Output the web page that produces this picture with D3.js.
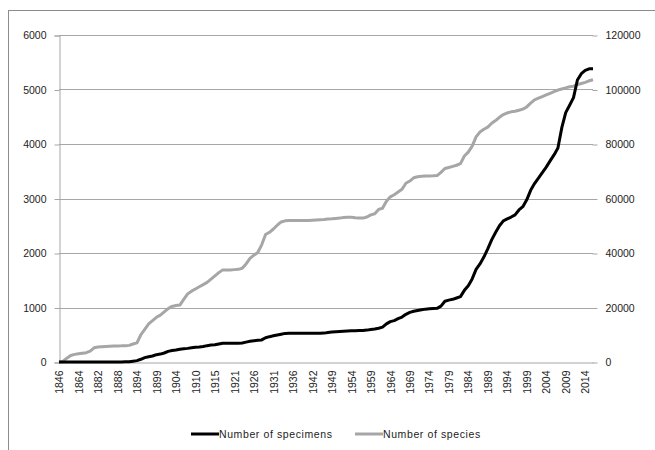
<!DOCTYPE html>
<html>
<head>
<meta charset="utf-8">
<script src="https://cdn.jsdelivr.net/npm/d3@7"></script>
<style>
    body { margin: 0; background: #fff; }
    text { font-family: "Liberation Sans", Arial, sans-serif; fill: #222; }
    .grid line { stroke: #a6a6a6; stroke-width: 1; }
    .axis path { stroke: #a6a6a6; }
    .axis line { stroke: #a6a6a6; }
</style>
</head>
<body>
<script>
//category years (every 5th one is labelled)
var years = [1846, 1850, 1853, 1857, 1860, 1864, 1867, 1871, 1875, 1879,
    1882, 1883, 1884, 1885, 1887, 1888, 1889, 1890, 1892, 1893,
    1894, 1895, 1896, 1897, 1898, 1899, 1900, 1901, 1902, 1903,
    1904, 1905, 1906, 1908, 1909, 1910, 1911, 1912, 1913, 1914,
    1915, 1916, 1917, 1919, 1920, 1921, 1922, 1923, 1924, 1925,
    1926, 1927, 1928, 1929, 1930, 1931, 1932, 1933, 1934, 1935,
    1936, 1937, 1938, 1940, 1941, 1942, 1943, 1945, 1947, 1948,
    1949, 1950, 1951, 1952, 1953, 1954, 1955, 1956, 1957, 1958,
    1959, 1960, 1961, 1962, 1963, 1964, 1965, 1966, 1967, 1968,
    1969, 1970, 1971, 1972, 1973, 1974, 1975, 1976, 1977, 1978,
    1979, 1980, 1981, 1982, 1983, 1984, 1985, 1986, 1987, 1988,
    1989, 1990, 1991, 1992, 1993, 1994, 1995, 1996, 1997, 1998,
    1999, 2000, 2001, 2002, 2003, 2004, 2005, 2006, 2007, 2008,
    2009, 2010, 2011, 2012, 2013, 2014, 2015, 2016];

//number of species (left axis)
var species = [0, 10, 70, 120, 140, 150, 160, 170, 200, 260,
    275, 280, 285, 290, 292, 294, 296, 300, 305, 330,
    350, 500, 600, 700, 760, 820, 860, 920, 980, 1020,
    1035, 1045, 1150, 1250, 1300, 1340, 1380, 1420, 1460, 1520,
    1580, 1640, 1690, 1690, 1690, 1695, 1700, 1720, 1800, 1900,
    1960, 2010, 2150, 2340, 2380, 2440, 2510, 2570, 2590, 2595,
    2595, 2595, 2595, 2595, 2595, 2600, 2605, 2610, 2615, 2625,
    2628, 2635, 2640, 2650, 2655, 2655, 2645, 2640, 2640, 2660,
    2700, 2720, 2800, 2820, 2950, 3030, 3070, 3120, 3170, 3280,
    3320, 3380, 3400, 3410, 3415, 3415, 3416, 3420, 3480, 3550,
    3570, 3590, 3610, 3640, 3780, 3850, 3960, 4130, 4220, 4270,
    4310, 4380, 4430, 4490, 4540, 4570, 4590, 4600, 4620, 4640,
    4680, 4750, 4810, 4840, 4870, 4900, 4930, 4960, 4990, 5010,
    5030, 5050, 5060, 5090, 5110, 5130, 5160, 5180];

//number of specimens (right axis)
var specimens = [0, 0, 0, 0, 0, 0, 0, 0, 0, 0,
    0, 0, 0, 0, 0, 0, 0, 50, 100, 300,
    500, 1000, 1600, 1950, 2200, 2700, 2900, 3300, 3900, 4200,
    4400, 4700, 4850, 5000, 5200, 5400, 5500, 5700, 6000, 6200,
    6300, 6600, 6870, 6870, 6870, 6870, 6900, 7000, 7300, 7600,
    7800, 8000, 8100, 8900, 9300, 9600, 9900, 10200, 10500, 10540,
    10540, 10540, 10540, 10540, 10540, 10540, 10560, 10580, 10600, 10800,
    11000, 11100, 11200, 11300, 11400, 11450, 11500, 11550, 11600, 11700,
    11900, 12100, 12400, 12800, 14000, 14800, 15200, 15900, 16500, 17500,
    18200, 18600, 18900, 19200, 19400, 19500, 19600, 19700, 20500, 22300,
    22700, 23000, 23500, 24000, 26300, 28000, 30500, 34000, 36000, 38500,
    41500, 44800, 47500, 50000, 51800, 52500, 53200, 54000, 55800, 57000,
    59500, 63000, 65500, 67500, 69500, 71500, 73800, 76000, 78500, 86000,
    91500, 94200, 97000, 103500, 105800, 107000, 107600, 107600];

var leftTicks = [0, 1000, 2000, 3000, 4000, 5000, 6000];
var rightTicks = [0, 20000, 40000, 60000, 80000, 100000, 120000];
var seriesNames = ["Number of specimens", "Number of species"];

window.onload = drawChart();

function drawChart(){

    var width = 655,
        height = 450;

    //plot area
    var left = 59, right = 593, top = 35, bottom = 362;

    var svg = d3.select("body")
        .append("svg")
        .attr("width", width)
        .attr("height", height);

    //outer chart frame
    svg.append("rect")
        .attr("x", 8.5)
        .attr("y", 10.5)
        .attr("width", 700)
        .attr("height", 500)
        .attr("fill", "none")
        .attr("stroke", "#8c8c8c")
        .attr("stroke-width", 1);

    var x = d3.scalePoint()
        .domain(years)
        .range([left, right]);

    var yLeft = d3.scaleLinear()
        .domain([0, 6000])
        .range([bottom, top]);

    var yRight = d3.scaleLinear()
        .domain([0, 120000])
        .range([bottom, top]);

    //horizontal gridlines
    svg.append("g")
        .attr("class", "grid")
        .selectAll("line")
        .data(leftTicks.slice(1))
        .enter()
        .append("line")
        .attr("x1", left)
        .attr("x2", right)
        .attr("y1", function(d){ return Math.round(yLeft(d)) + 0.5; })
        .attr("y2", function(d){ return Math.round(yLeft(d)) + 0.5; });

    //left axis
    var leftAxis = svg.append("g")
        .attr("class", "axis")
        .attr("transform", "translate(" + (left + 0.5) + ",0.5)")
        .call(d3.axisLeft(yLeft).tickValues(leftTicks).tickFormat(d3.format("d"))
            .tickSize(5).tickPadding(8));
    leftAxis.selectAll("text").style("font-size", "10.5px");

    //right axis (ticks only)
    var rightAxis = svg.append("g")
        .attr("class", "axis")
        .attr("transform", "translate(" + (right - 0.5) + ",0.5)")
        .call(d3.axisRight(yRight).tickValues(rightTicks).tickFormat(d3.format("d"))
            .tickSize(5).tickPadding(8));
    rightAxis.select(".domain").remove();
    rightAxis.selectAll("text").style("font-size", "10.5px");

    //bottom category axis
    var bottomAxis = svg.append("g")
        .attr("class", "axis")
        .attr("transform", "translate(0," + (bottom + 0.5) + ")")
        .call(d3.axisBottom(x)
            .tickValues(years.filter(function(d, i){ return i % 5 == 0; }))
            .tickSize(0)
            .tickSizeOuter(0));
    bottomAxis.selectAll("text")
        .style("font-size", "10.5px")
        .attr("transform", "rotate(-90)")
        .attr("text-anchor", "end")
        .attr("x", -8)
        .attr("y", 0)
        .attr("dy", "0.35em");

    //lines
    var speciesLine = d3.line()
        .x(function(d, i){ return x(years[i]); })
        .y(function(d){ return yLeft(d); });

    var specimensLine = d3.line()
        .x(function(d, i){ return x(years[i]); })
        .y(function(d){ return yRight(d); });

    svg.append("path")
        .datum(species)
        .attr("fill", "none")
        .attr("stroke", "#a6a6a6")
        .attr("stroke-width", 3)
        .attr("stroke-linejoin", "round")
        .attr("d", speciesLine);

    svg.append("path")
        .datum(specimens)
        .attr("fill", "none")
        .attr("stroke", "#000")
        .attr("stroke-width", 3)
        .attr("stroke-linejoin", "round")
        .attr("d", specimensLine);

    //legend
    var legendColors = ["#000", "#a6a6a6"];
    var legendX = [191, 355];
    var legend = svg.selectAll(".legend")
        .data(seriesNames)
        .enter()
        .append("g")
        .attr("class", "legend")
        .attr("transform", function(d, i){ return "translate(" + legendX[i] + ",434)"; });

    legend.append("line")
        .attr("x1", 0)
        .attr("x2", 28)
        .attr("stroke", function(d, i){ return legendColors[i]; })
        .attr("stroke-width", 3);

    legend.append("text")
        .attr("x", 28)
        .attr("dy", "0.35em")
        .style("font-size", "10.5px")
        .style("letter-spacing", "0.6px")
        .text(function(d){ return d; });
};
</script>
</body>
</html>
